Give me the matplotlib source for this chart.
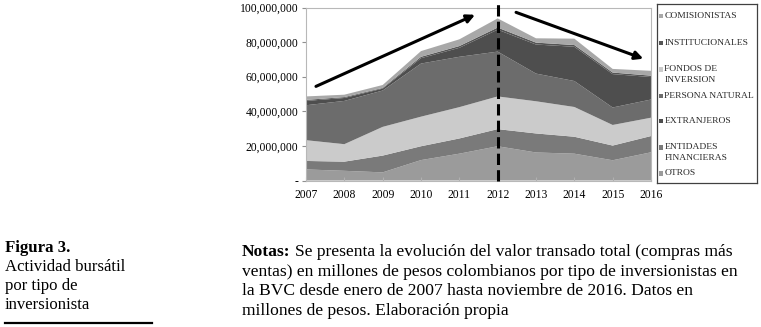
import matplotlib
matplotlib.use("Agg")
import matplotlib.pyplot as plt
import numpy as np
from matplotlib.lines import Line2D
from matplotlib.patches import Rectangle

plt.rcParams['font.family'] = ['Liberation Serif', 'DejaVu Serif']

# ---- data (millions of pesos) ----
years = [2007, 2008, 2009, 2010, 2011, 2012, 2013, 2014, 2015, 2016]
otros = [6.4, 5.6, 4.7, 11.8, 15.5, 19.8, 16.2, 15.5, 11.7, 16.3]
entidades = [4.9, 5.3, 9.7, 8.0, 8.8, 9.9, 11.0, 9.8, 8.5, 9.4]
fondos = [12.0, 10.1, 16.6, 17.1, 18.1, 18.9, 18.6, 17.2, 11.9, 10.6]
persona = [20.2, 25.0, 21.0, 30.7, 29.1, 25.9, 16.0, 15.0, 10.1, 10.5]
extranjeros = [2.5, 1.7, 1.1, 3.1, 5.2, 12.7, 16.8, 19.8, 19.3, 13.0]
institucionales = [0.6, 0.5, 0.4, 0.8, 1.0, 1.2, 1.1, 1.0, 0.9, 0.8]
comisionistas = [2.0, 1.4, 1.7, 3.3, 3.9, 5.3, 2.5, 3.7, 2.1, 2.8]

series_names = ["OTROS", "ENTIDADES FINANCIERAS", "FONDOS DE INVERSION",
                "PERSONA NATURAL", "EXTRANJEROS", "INSTITUCIONALES", "COMISIONISTAS"]
series_vals = [otros, entidades, fondos, persona, extranjeros, institucionales, comisionistas]
colors = ["#9b9b9b", "#7a7a7a", "#cbcbcb", "#6c6c6c", "#4e4e4e", "#555555", "#a8a8a8"]

legend_order = ["COMISIONISTAS", "INSTITUCIONALES", "FONDOS DE\nINVERSION",
                "PERSONA NATURAL", "EXTRANJEROS", "ENTIDADES\nFINANCIERAS", "OTROS"]
legend_keys = ["COMISIONISTAS", "INSTITUCIONALES", "FONDOS DE INVERSION",
               "PERSONA NATURAL", "EXTRANJEROS", "ENTIDADES FINANCIERAS", "OTROS"]

yticks = [0, 20e6, 40e6, 60e6, 80e6, 100e6]

W, H = 761, 327
fig = plt.figure(figsize=(W / 100, H / 100), dpi=100)
fig.patch.set_facecolor("white")

def fx(px):
    return px / W

def fy(py):
    return 1 - py / H

ax_l, ax_r, ax_t, ax_b = 306, 651, 7.5, 180.5
ax = fig.add_axes([fx(ax_l), fy(ax_b), fx(ax_r - ax_l), (ax_b - ax_t) / H])

vals = [np.array(v) * 1e6 for v in series_vals]
ax.stackplot(years, *vals, colors=colors, linewidth=0)

ax.set_xlim(2007, 2016)
ax.set_ylim(0, 100e6)
ax.set_xticks(years)
ax.set_xticklabels([str(y) for y in years], fontsize=8.4)
ax.set_yticks(yticks)
ax.set_yticklabels(["-" if t == 0 else "{:,.0f}".format(t) for t in yticks], fontsize=8.4)
for s in ax.spines.values():
    s.set_color("#b8b8b8")
    s.set_linewidth(0.8)
ax.tick_params(axis="y", length=3, width=0.8, color="#909090", pad=2.5)
ax.tick_params(axis="x", length=3, width=0.8, color="#b0b0b0", pad=6, direction="in")

# dashed vertical line at 2012
ax.plot([2012, 2012], [0, 103.2e6], color="black", lw=2.2,
        ls=(0, (3.7, 1.7)), clip_on=False, zorder=5)

# trend arrows
ax.annotate("", xy=(2011.41, 95.8e6), xytext=(2007.26, 54.4e6),
            arrowprops=dict(arrowstyle="-|>", lw=2.2, color="black", mutation_scale=12,
                            shrinkA=0, shrinkB=0), annotation_clip=False)
ax.annotate("", xy=(2015.8, 70.4e6), xytext=(2012.48, 97.2e6),
            arrowprops=dict(arrowstyle="-|>", lw=2.2, color="black", mutation_scale=12,
                            shrinkA=0, shrinkB=0), annotation_clip=False)

# legend box (pixel coordinates)
lx0, lx1, ly0, ly1 = 656.5, 757, 4, 182.7
lax = fig.add_axes([fx(lx0), fy(ly1), fx(lx1 - lx0), (ly1 - ly0) / H])
lax.set_xlim(lx0, lx1)
lax.set_ylim(ly1, ly0)
lax.set_xticks([])
lax.set_yticks([])
for s in lax.spines.values():
    s.set_color("#404040")
    s.set_linewidth(0.9)
legend_y = [16, 42.7, 69.3, 95.7, 120.7, 147.3, 173.3]
line_gap = 10.6
for label, key, yy in zip(legend_order, legend_keys, legend_y):
    c = colors[series_names.index(key)]
    lax.add_patch(Rectangle((659, yy - 2.2), 4.4, 4.4, facecolor=c, edgecolor="none"))
    for i, part in enumerate(label.split("\n")):
        lax.text(664.5, yy + i * line_gap, part, fontsize=6.8, va="center", ha="left",
                 color="#2a2a2a", clip_on=True)

# caption block
cap_fs = 12.1
fig.text(fx(5), fy(251.5), "Figura 3.", fontsize=cap_fs, fontweight="bold", va="baseline", ha="left")
left_lines = ["Actividad bursátil", "por tipo de", "inversionista"]
left_base = [270.7, 290, 309]
for t, b in zip(left_lines, left_base):
    fig.text(fx(5), fy(b), t, fontsize=cap_fs, va="baseline", ha="left")
fig.add_artist(Line2D([fx(5), fx(152)], [fy(322.7), fy(322.7)], color="black", lw=1.6,
                      transform=fig.transFigure))

note_fs = 12.6
bold = fig.text(fx(242), fy(255.7), "Notas:", fontsize=note_fs, fontweight="bold",
                va="baseline", ha="left")
fig.canvas.draw()
bb = bold.get_window_extent(renderer=fig.canvas.get_renderer())
fig.text(bb.x1 / W + fx(4), fy(255.7), "Se presenta la evolución del valor transado total (compras más",
         fontsize=note_fs, va="baseline", ha="left")
note_lines = ["ventas) en millones de pesos colombianos por tipo de inversionistas en",
              "la BVC desde enero de 2007 hasta noviembre de 2016. Datos en",
              "millones de pesos. Elaboración propia"]
note_base = [275.7, 295.3, 315]
for t, b in zip(note_lines, note_base):
    fig.text(fx(242), fy(b), t, fontsize=note_fs, va="baseline", ha="left")

fig.savefig("out.png", dpi=100)
